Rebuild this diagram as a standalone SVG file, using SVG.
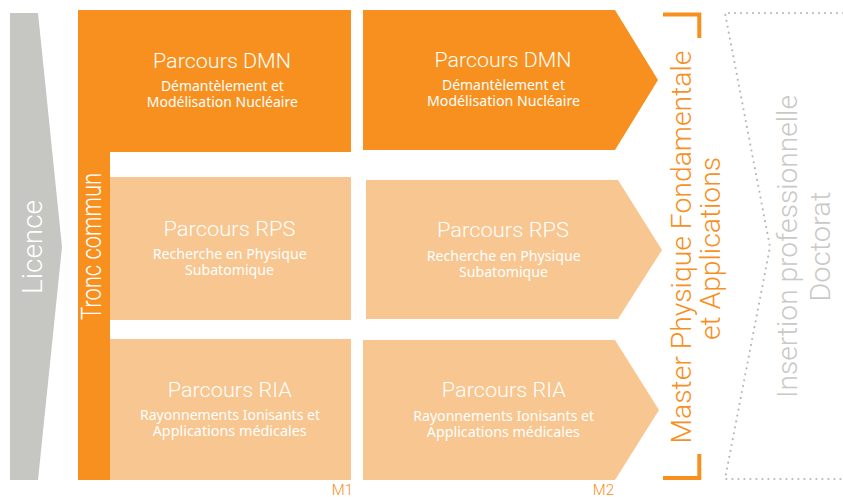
<svg xmlns="http://www.w3.org/2000/svg" width="843" height="497" viewBox="0 0 843 497">
<style>
.dark{fill:#f7901e}
.light{fill:#f8c690}
.title{font-family:Roboto,"Liberation Sans",sans-serif;font-weight:300;font-size:20.5px;fill:#ffffff;text-anchor:middle}
.sub{font-family:"Noto Sans","Open Sans",sans-serif;font-size:13.5px;fill:#ffffff;text-anchor:middle}
.big{font-family:Roboto,"Liberation Sans",sans-serif;font-weight:300;font-size:28px;text-anchor:middle}
.lbl{font-family:Roboto,"Liberation Sans",sans-serif;font-weight:300;font-size:15px;fill:#f7901e;text-anchor:end}
</style>
<rect width="843" height="497" fill="#ffffff"/>

<g id="licence">
<polygon points="10,13 38,13 62,247 38,480 10,480" fill="#c6c7c2"/>
<text class="big" transform="translate(41.7,247) rotate(-90)" fill="#ffffff" font-size="27" textLength="94" lengthAdjust="spacingAndGlyphs">Licence</text>
</g>

<g id="tronc-commun">
<path class="dark" d="M78,10 H351 V152 H110 V480 H78 Z"/>
<text class="big" transform="translate(100.5,246.5) rotate(-90)" fill="#ffffff" font-size="21.5" textLength="147" lengthAdjust="spacingAndGlyphs">Tronc commun</text>
</g>

<g id="m1-dmn">
<text class="title" x="222" y="68.3" textLength="138" lengthAdjust="spacingAndGlyphs">Parcours DMN</text>
<text class="sub" x="222.4" y="90.7" textLength="123" lengthAdjust="spacingAndGlyphs">Démantèlement et</text>
<text class="sub" x="222.3" y="106.7" textLength="151" lengthAdjust="spacingAndGlyphs">Modélisation Nucléaire</text>
</g>

<g id="m1-rps">
<rect class="light" x="110" y="177" width="241" height="143"/>
<text class="title" x="229.5" y="236" textLength="132" lengthAdjust="spacingAndGlyphs">Parcours RPS</text>
<text class="sub" x="229.7" y="259" textLength="154" lengthAdjust="spacingAndGlyphs">Recherche en Physique</text>
<text class="sub" x="229.5" y="275" textLength="89" lengthAdjust="spacingAndGlyphs">Subatomique</text>
</g>

<g id="m1-ria">
<rect class="light" x="110" y="339" width="241" height="141"/>
<text class="title" x="229.7" y="397" textLength="124" lengthAdjust="spacingAndGlyphs">Parcours RIA</text>
<text class="sub" x="230" y="420" textLength="180" lengthAdjust="spacingAndGlyphs">Rayonnements Ionisants et</text>
<text class="sub" x="229.7" y="436" textLength="154" lengthAdjust="spacingAndGlyphs">Applications médicales</text>
</g>

<g id="m2-dmn">
<polygon class="dark" points="363,10 615,10 658,80 615,150 363,150"/>
<text class="title" x="503" y="67" textLength="137" lengthAdjust="spacingAndGlyphs">Parcours DMN</text>
<text class="sub" x="503.5" y="90" textLength="123" lengthAdjust="spacingAndGlyphs">Démantèlement et</text>
<text class="sub" x="503.5" y="106" textLength="153" lengthAdjust="spacingAndGlyphs">Modélisation Nucléaire</text>
</g>

<g id="m2-rps">
<polygon class="light" points="366,180 618,180 662,250 618,319 366,319"/>
<text class="title" x="503" y="237" textLength="132" lengthAdjust="spacingAndGlyphs">Parcours RPS</text>
<text class="sub" x="503.7" y="260.7" textLength="154" lengthAdjust="spacingAndGlyphs">Recherche en Physique</text>
<text class="sub" x="503.5" y="276.7" textLength="89" lengthAdjust="spacingAndGlyphs">Subatomique</text>
</g>

<g id="m2-ria">
<polygon class="light" points="363,340 615,340 659,410 615,480 363,480"/>
<text class="title" x="503.8" y="397.3" textLength="124" lengthAdjust="spacingAndGlyphs">Parcours RIA</text>
<text class="sub" x="503.7" y="420.7" textLength="181" lengthAdjust="spacingAndGlyphs">Rayonnements Ionisants et</text>
<text class="sub" x="503.3" y="436.7" textLength="153" lengthAdjust="spacingAndGlyphs">Applications médicales</text>
</g>

<g id="labels">
<text class="lbl" x="353" y="495">M1</text>
<text class="lbl" x="614" y="495">M2</text>
</g>

<g id="master">
<path d="M663,14.5 H699.3 V38 M663,478 H699.3 V454" fill="none" stroke="#f7901e" stroke-width="4" stroke-linejoin="miter"/>
<text class="big" transform="translate(691,247) rotate(-90)" fill="#f7901e" textLength="393" lengthAdjust="spacingAndGlyphs">Master Physique Fondamentale</text>
<text class="big" transform="translate(720,248.5) rotate(-90)" fill="#f7901e" textLength="183" lengthAdjust="spacingAndGlyphs">et Applications</text>
</g>

<g id="debouches">
<polyline points="843,13 725,13 770,247 725,479 843,479" fill="none" stroke="#b8b8b4" stroke-width="2.2" stroke-dasharray="0 6" stroke-linecap="round"/>
<text class="big" transform="translate(797,246.5) rotate(-90)" fill="#c9c9c5" textLength="303" lengthAdjust="spacingAndGlyphs">Insertion professionnelle</text>
<text class="big" transform="translate(830,246.7) rotate(-90)" fill="#c9c9c5" textLength="110" lengthAdjust="spacingAndGlyphs">Doctorat</text>
</g>
</svg>
